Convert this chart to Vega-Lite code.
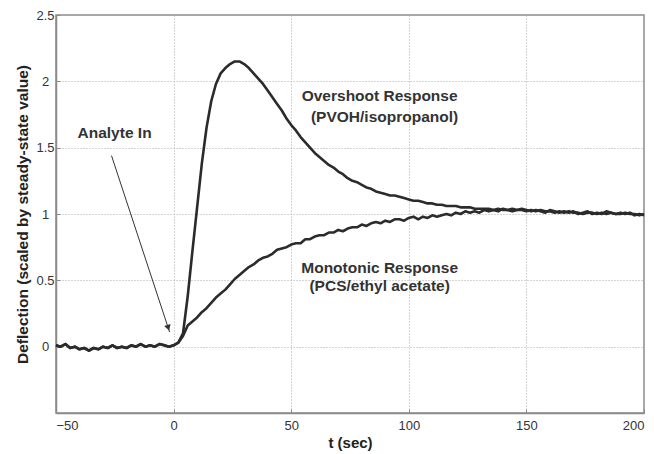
{
  "$schema": "https://vega.github.io/schema/vega-lite/v6.json",
  "width": 588,
  "height": 398,
  "autosize": {"type": "none"},
  "padding": {"left": 56, "top": 15, "right": 10, "bottom": 41},
  "background": "white",
  "config": {
    "view": {"stroke": "#8a8a8a", "strokeWidth": 1.5},
    "font": "'Liberation Sans Narrow', 'Liberation Sans', Arial, sans-serif"
  },
  "datasets": {
    "curves": [
      {"t": -50, "o": 0.01, "m": 0.01}, {"t": -48, "o": 0.0, "m": 0.0}, {"t": -46, "o": 0.02, "m": 0.02},
      {"t": -44, "o": -0.01, "m": -0.01}, {"t": -42, "o": 0.0, "m": 0.0}, {"t": -40, "o": -0.02, "m": -0.02},
      {"t": -38, "o": -0.01, "m": -0.01}, {"t": -36, "o": -0.03, "m": -0.03}, {"t": -34, "o": -0.01, "m": -0.01},
      {"t": -32, "o": -0.02, "m": -0.02}, {"t": -30, "o": 0.0, "m": 0.0}, {"t": -28, "o": -0.01, "m": -0.01},
      {"t": -26, "o": 0.01, "m": 0.01}, {"t": -24, "o": -0.01, "m": -0.01}, {"t": -22, "o": 0.0, "m": 0.0},
      {"t": -20, "o": -0.01, "m": -0.01}, {"t": -18, "o": 0.01, "m": 0.01}, {"t": -16, "o": 0.0, "m": 0.0},
      {"t": -14, "o": 0.02, "m": 0.02}, {"t": -12, "o": 0.0, "m": 0.0}, {"t": -10, "o": 0.01, "m": 0.01},
      {"t": -8, "o": 0.0, "m": 0.0}, {"t": -6, "o": 0.02, "m": 0.02}, {"t": -4, "o": 0.01, "m": 0.01},
      {"t": -2, "o": 0.0, "m": 0.0}, {"t": 0, "o": 0.01, "m": 0.01}, {"t": 2, "o": 0.03, "m": 0.03},
      {"t": 4, "o": 0.1, "m": 0.08}, {"t": 6, "o": 0.38, "m": 0.16}, {"t": 8, "o": 0.72, "m": 0.19},
      {"t": 10, "o": 1.05, "m": 0.22}, {"t": 12, "o": 1.38, "m": 0.26}, {"t": 14, "o": 1.65, "m": 0.29},
      {"t": 16, "o": 1.85, "m": 0.33}, {"t": 18, "o": 1.98, "m": 0.37}, {"t": 20, "o": 2.06, "m": 0.4},
      {"t": 22, "o": 2.1, "m": 0.43}, {"t": 24, "o": 2.13, "m": 0.47}, {"t": 26, "o": 2.15, "m": 0.51},
      {"t": 28, "o": 2.15, "m": 0.54}, {"t": 30, "o": 2.13, "m": 0.57}, {"t": 32, "o": 2.1, "m": 0.6},
      {"t": 34, "o": 2.06, "m": 0.62}, {"t": 36, "o": 2.02, "m": 0.65}, {"t": 38, "o": 1.98, "m": 0.67},
      {"t": 40, "o": 1.93, "m": 0.68}, {"t": 42, "o": 1.88, "m": 0.7}, {"t": 44, "o": 1.83, "m": 0.73},
      {"t": 46, "o": 1.78, "m": 0.74}, {"t": 48, "o": 1.72, "m": 0.75}, {"t": 50, "o": 1.67, "m": 0.77},
      {"t": 52, "o": 1.63, "m": 0.78}, {"t": 54, "o": 1.58, "m": 0.78}, {"t": 56, "o": 1.54, "m": 0.81},
      {"t": 58, "o": 1.5, "m": 0.81}, {"t": 60, "o": 1.46, "m": 0.83}, {"t": 62, "o": 1.43, "m": 0.84},
      {"t": 64, "o": 1.4, "m": 0.84}, {"t": 66, "o": 1.37, "m": 0.86}, {"t": 68, "o": 1.35, "m": 0.86},
      {"t": 70, "o": 1.32, "m": 0.88}, {"t": 72, "o": 1.3, "m": 0.87}, {"t": 74, "o": 1.27, "m": 0.89},
      {"t": 76, "o": 1.25, "m": 0.9}, {"t": 78, "o": 1.24, "m": 0.9}, {"t": 80, "o": 1.22, "m": 0.92},
      {"t": 82, "o": 1.2, "m": 0.91}, {"t": 84, "o": 1.19, "m": 0.93}, {"t": 86, "o": 1.17, "m": 0.94},
      {"t": 88, "o": 1.16, "m": 0.93}, {"t": 90, "o": 1.15, "m": 0.95}, {"t": 92, "o": 1.14, "m": 0.94},
      {"t": 94, "o": 1.14, "m": 0.96}, {"t": 96, "o": 1.13, "m": 0.96}, {"t": 98, "o": 1.12, "m": 0.95},
      {"t": 100, "o": 1.11, "m": 0.97}, {"t": 102, "o": 1.1, "m": 0.98}, {"t": 104, "o": 1.1, "m": 0.96},
      {"t": 106, "o": 1.09, "m": 0.98}, {"t": 108, "o": 1.08, "m": 0.97}, {"t": 110, "o": 1.08, "m": 0.99},
      {"t": 112, "o": 1.07, "m": 0.98}, {"t": 114, "o": 1.07, "m": 0.99}, {"t": 116, "o": 1.06, "m": 1.0},
      {"t": 118, "o": 1.06, "m": 0.99}, {"t": 120, "o": 1.06, "m": 1.01}, {"t": 122, "o": 1.05, "m": 1.0},
      {"t": 124, "o": 1.05, "m": 1.02}, {"t": 126, "o": 1.05, "m": 1.01}, {"t": 128, "o": 1.04, "m": 1.02},
      {"t": 130, "o": 1.04, "m": 1.01}, {"t": 132, "o": 1.04, "m": 1.03}, {"t": 134, "o": 1.04, "m": 1.02},
      {"t": 136, "o": 1.03, "m": 1.03}, {"t": 138, "o": 1.04, "m": 1.02}, {"t": 140, "o": 1.03, "m": 1.04},
      {"t": 142, "o": 1.03, "m": 1.03}, {"t": 144, "o": 1.04, "m": 1.02}, {"t": 146, "o": 1.03, "m": 1.03},
      {"t": 148, "o": 1.03, "m": 1.04}, {"t": 150, "o": 1.02, "m": 1.03}, {"t": 152, "o": 1.03, "m": 1.02},
      {"t": 154, "o": 1.02, "m": 1.03}, {"t": 156, "o": 1.03, "m": 1.02}, {"t": 158, "o": 1.02, "m": 1.01},
      {"t": 160, "o": 1.02, "m": 1.03}, {"t": 162, "o": 1.01, "m": 1.02}, {"t": 164, "o": 1.02, "m": 1.01},
      {"t": 166, "o": 1.01, "m": 1.02}, {"t": 168, "o": 1.02, "m": 1.01}, {"t": 170, "o": 1.01, "m": 1.02},
      {"t": 172, "o": 1.01, "m": 1.0}, {"t": 174, "o": 1.0, "m": 1.01}, {"t": 176, "o": 1.01, "m": 1.02},
      {"t": 178, "o": 1.01, "m": 1.0}, {"t": 180, "o": 1.0, "m": 1.01}, {"t": 182, "o": 1.01, "m": 1.0},
      {"t": 184, "o": 1.0, "m": 1.02}, {"t": 186, "o": 1.01, "m": 1.01}, {"t": 188, "o": 1.0, "m": 1.0},
      {"t": 190, "o": 1.0, "m": 1.01}, {"t": 192, "o": 1.01, "m": 1.0}, {"t": 194, "o": 1.0, "m": 1.01},
      {"t": 196, "o": 1.0, "m": 0.99}, {"t": 198, "o": 0.99, "m": 1.0}, {"t": 200, "o": 1.0, "m": 0.99}
    ],
    "arrow": [{"x1": -26.4, "y1": 1.44, "x2": -1.7, "y2": 0.11, "hx": -2.4, "hy": 0.15}],
    "labels": [
      {"t": -25.1, "y": 1.61, "text": "Analyte In"},
      {"t": 87.6, "y": 1.89, "text": "Overshoot Response"},
      {"t": 89.7, "y": 1.73, "text": "(PVOH/isopropanol)"},
      {"t": 87.6, "y": 0.595, "text": "Monotonic Response"},
      {"t": 87.6, "y": 0.455, "text": "(PCS/ethyl acetate)"}
    ]
  },
  "layer": [
    {
      "data": {"name": "curves"},
      "transform": [{"fold": ["o", "m"], "as": ["series", "value"]}],
      "mark": {"type": "line", "color": "#2b2b2b", "strokeWidth": 2.6, "strokeJoin": "round"},
      "encoding": {
        "x": {
          "field": "t", "type": "quantitative",
          "scale": {"domain": [-50, 200], "nice": false, "zero": false},
          "axis": {
            "values": [-50, 0, 50, 100, 150, 200],
            "title": "t (sec)", "titleFontSize": 15, "titleFontWeight": "bold", "titleColor": "#222",
            "titlePadding": 3,
            "labelFontSize": 13, "labelColor": "#333", "labelPadding": 10,
            "grid": true, "gridDash": [1, 2], "gridColor": "#aaa",
            "domainColor": "#8a8a8a", "domainWidth": 1.5,
            "tickColor": "#8a8a8a", "tickSize": -4
          }
        },
        "y": {
          "field": "value", "type": "quantitative",
          "scale": {"domain": [-0.5, 2.5], "nice": false, "zero": false},
          "axis": {
            "values": [0, 0.5, 1, 1.5, 2, 2.5], "format": "~g",
            "title": "Deflection (scaled by steady-state value)", "titleFontSize": 15.5, "titleFontWeight": "bold", "titleColor": "#222",
            "titlePadding": 5,
            "labelFontSize": 13, "labelColor": "#333", "labelPadding": 15, "labelAlign": "center",
            "grid": true, "gridDash": [1, 2], "gridColor": "#aaa",
            "domainColor": "#8a8a8a", "domainWidth": 1.5,
            "tickColor": "#8a8a8a", "tickSize": -4
          }
        },
        "detail": {"field": "series"}
      }
    },
    {
      "data": {"name": "arrow"},
      "mark": {"type": "rule", "color": "#333", "strokeWidth": 1},
      "encoding": {
        "x": {"field": "x1", "type": "quantitative"},
        "y": {"field": "y1", "type": "quantitative"},
        "x2": {"field": "x2"},
        "y2": {"field": "y2"}
      }
    },
    {
      "data": {"name": "arrow"},
      "mark": {"type": "point", "shape": "triangle", "angle": 161.8, "filled": true, "color": "#333", "size": 45, "opacity": 1},
      "encoding": {
        "x": {"field": "hx", "type": "quantitative"},
        "y": {"field": "hy", "type": "quantitative"}
      }
    },
    {
      "data": {"name": "labels"},
      "mark": {"type": "text", "fontSize": 15.5, "fontWeight": "bold", "color": "#333", "align": "center", "baseline": "middle"},
      "encoding": {
        "x": {"field": "t", "type": "quantitative"},
        "y": {"field": "y", "type": "quantitative"},
        "text": {"field": "text"}
      }
    }
  ]
}
